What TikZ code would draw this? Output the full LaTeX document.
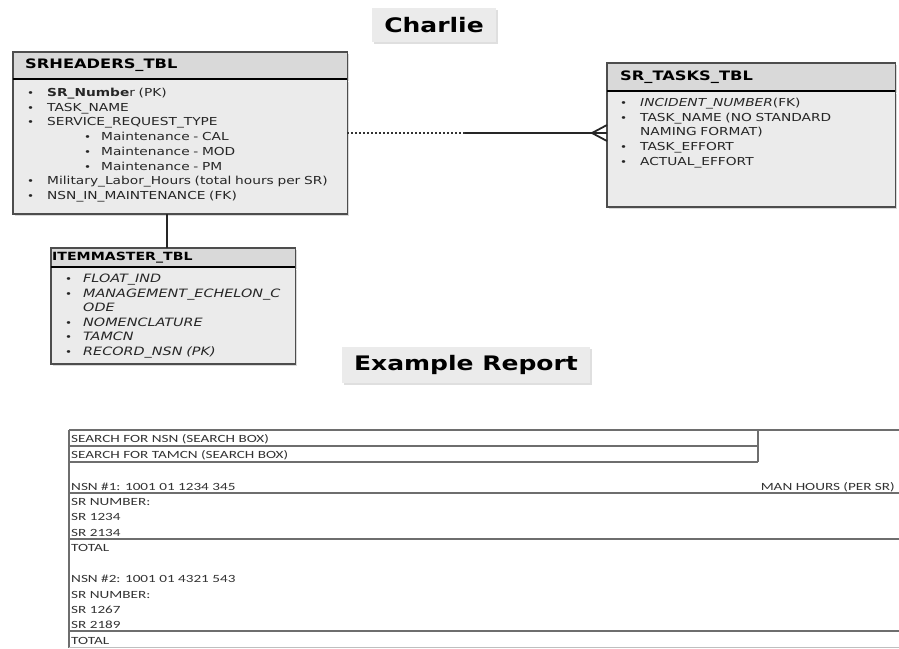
\documentclass[tikz,border=0pt]{standalone}
\usepackage{fontspec}
\setmainfont{DejaVu Sans}[FakeStretch=1.25]
\newfontfamily\rptfont{Carlito}[FakeStretch=1.38]
\usetikzlibrary{positioning,shadows}

\definecolor{tblfill}{HTML}{EBEBEB}
\definecolor{hdrfill}{HTML}{D9D9D9}
\definecolor{tblline}{HTML}{4D4D4D}
\definecolor{rptline}{HTML}{6E6E6E}

\newcommand{\bul}{\makebox[20pt][l]{\fontsize{9.5}{9.5}\selectfont\textbullet}}
\newcommand{\ibul}{\makebox[18pt][l]{\fontsize{9.5}{9.5}\selectfont\textbullet}}
\newcommand{\subbul}{\hspace*{57pt}\makebox[17pt][l]{\fontsize{9.5}{9.5}\selectfont\textbullet}}

\begin{document}
\begin{tikzpicture}[x=1pt,y=-1pt,node distance=0pt,>=stealth]
		\tikzstyle{title box}=[rectangle, fill=tblfill, inner sep=0pt, font=\fontsize{20}{24}\selectfont\bfseries,
			drop shadow={opacity=0.25, shadow xshift=2pt, shadow yshift=-2pt}]
		\tikzstyle{tbl head}=[rectangle, fill=hdrfill, inner ysep=0pt, align=left, anchor=north west,
			font=\fontsize{13}{15}\selectfont\bfseries, drop shadow={opacity=0.3, shadow xshift=2pt, shadow yshift=-2pt}]
		\tikzstyle{tbl body}=[rectangle, fill=tblfill, inner sep=0pt,
			drop shadow={opacity=0.3, shadow xshift=2pt, shadow yshift=-2pt}]
		\tikzstyle{tbl text}=[inner sep=0pt, align=left, anchor=north west, text width=320pt, text=black!85,
			font=\fontsize{11}{14.7}\selectfont]
		\tikzstyle{tbl border}=[draw=tblline, line width=1.5pt]
		\tikzstyle{tbl sep}=[draw=black, line width=2pt]
		\tikzstyle{rel line}=[draw=black!85, line width=1.8pt]
		\tikzstyle{rel dotted}=[draw=black!80, line width=1.4pt, dash pattern=on 2pt off 2pt]
		\tikzstyle{rpt rule}=[draw=rptline, line width=1.6pt]
		\tikzstyle{rpt text}=[inner sep=0pt, anchor=base west, font=\rptfont\fontsize{11}{13}\selectfont, text=black!80]

		\useasboundingbox (0,0) rectangle (899,648);

		% titles
		\node [title box, minimum width=124pt, minimum height=34pt] (charlie) at (434,25) {Charlie};
		\node [title box, minimum width=248pt, minimum height=36pt] (report) at (466,365) {Example Report};

		% SRHEADERS_TBL
		\node [tbl head, inner xsep=12pt, text width=310pt, minimum height=27pt] (srh) at (13,52) {SRHEADERS\_TBL};
		\node [tbl body, minimum width=334pt, minimum height=134pt, below=of srh] (srb) {};
		\node [tbl text] (srt) at ([xshift=14pt,yshift=-8.6pt]srb.north west) {%
			\bul\textbf{SR\_Numbe}r (PK)\\
			\bul TASK\_NAME\\
			\bul SERVICE\_REQUEST\_TYPE\\
			\subbul Maintenance - CAL\\
			\subbul Maintenance - MOD\\
			\subbul Maintenance - PM\\
			\bul Military\_Labor\_Hours (total hours per SR)\\
			\bul NSN\_IN\_MAINTENANCE (FK)};
		\draw [tbl border] (srh.north west) rectangle (srb.south east);
		\draw [tbl sep] (srh.south west) -- (srh.south east);

		% SR_TASKS_TBL
		\node [tbl head, inner xsep=13pt, text width=262pt, minimum height=28pt] (sth) at (607,63) {SR\_TASKS\_TBL};
		\node [tbl body, minimum width=288pt, minimum height=115pt, below=of sth] (stb) {};
		\node [tbl text] (stt) at ([xshift=13pt,yshift=-6.6pt]stb.north west) {%
			\bul\textit{INCIDENT\_NUMBER}(FK)\\
			\bul TASK\_NAME (NO STANDARD\\
			\hspace*{20pt}NAMING FORMAT)\\
			\bul TASK\_EFFORT\\
			\bul ACTUAL\_EFFORT};
		\draw [tbl border] (sth.north west) rectangle (stb.south east);
		\draw [tbl sep] (sth.south west) -- (sth.south east);

		% ITEMMASTER_TBL
		\node [tbl head, inner xsep=1pt, text width=242pt, minimum height=19pt, font=\fontsize{11.3}{13}\selectfont\bfseries] (imh) at (51,248) {ITEMMASTER\_TBL};
		\node [tbl body, minimum width=244pt, minimum height=96pt, below=of imh] (imb) {};
		\node [tbl text, font=\fontsize{11.5}{14.6}\selectfont\itshape] (imt) at ([xshift=14pt,yshift=-6.3pt]imb.north west) {%
			\ibul FLOAT\_IND\\
			\ibul MANAGEMENT\_ECHELON\_C\\
			\hspace*{18pt}ODE\\
			\ibul NOMENCLATURE\\
			\ibul TAMCN\\
			\ibul RECORD\_NSN (PK)};
		\draw [tbl border] (imh.north west) rectangle (imb.south east);
		\draw [tbl sep] (imh.south west) -- (imh.south east);

		% relations
		\coordinate (split) at (465,133);
		\draw [rel dotted] (srb.east |- split) -- (split);
		\draw [rel line] (split) -- (stb.west |- split);
		\draw [rel line] ([xshift=-15pt]stb.west |- split) -- ([yshift=8pt]stb.west |- split);
		\draw [rel line] ([xshift=-15pt]stb.west |- split) -- ([yshift=-8pt]stb.west |- split);
		\draw [rel line] ([xshift=-6pt]imh.north) -- ([xshift=-6pt]imh.north |- srb.south);

		% report layout
		\draw [rpt rule] (69,430) -- (899,430);
		\draw [rpt rule] (69,446) -- (758,446);
		\draw [rpt rule] (69,462) -- (758,462);
		\draw [rpt rule] (758,430) -- (758,462);
		\draw [rpt rule] (69,493) -- (899,493);
		\draw [rpt rule] (69,539) -- (899,539);
		\draw [rpt rule] (69,631) -- (899,631);
		\draw [rpt rule] (69,430) -- (69,648);
		\draw [draw=black!25, line width=0.8pt] (69,647.5) -- (899,647.5);

		\node [rpt text] (nsnsearch) at (71,442.5) {SEARCH FOR NSN (SEARCH BOX)};
		\node [rpt text] (tamcnsearch) at (71,458.5) {SEARCH FOR TAMCN (SEARCH BOX)};
		\node [rpt text] (nsna) at (71,490.5) {NSN \#1: 1001 01 1234 345};
		\node [rpt text, anchor=base east] (manhours) at (895,490.5) {MAN HOURS (PER SR)};
		\node [rpt text] (srnuma) at (71,505.5) {SR NUMBER:};
		\node [rpt text] (sra) at (71,520.5) {SR 1234};
		\node [rpt text] (srb2) at (71,536.5) {SR 2134};
		\node [rpt text] (totala) at (71,551.5) {TOTAL};
		\node [rpt text] (nsnb) at (71,582.5) {NSN \#2: 1001 01 4321 543};
		\node [rpt text] (srnumb) at (71,598.5) {SR NUMBER:};
		\node [rpt text] (src) at (71,613) {SR 1267};
		\node [rpt text] (srd) at (71,628) {SR 2189};
		\node [rpt text] (totalb) at (71,644.5) {TOTAL};
	\end{tikzpicture}
\end{document}
